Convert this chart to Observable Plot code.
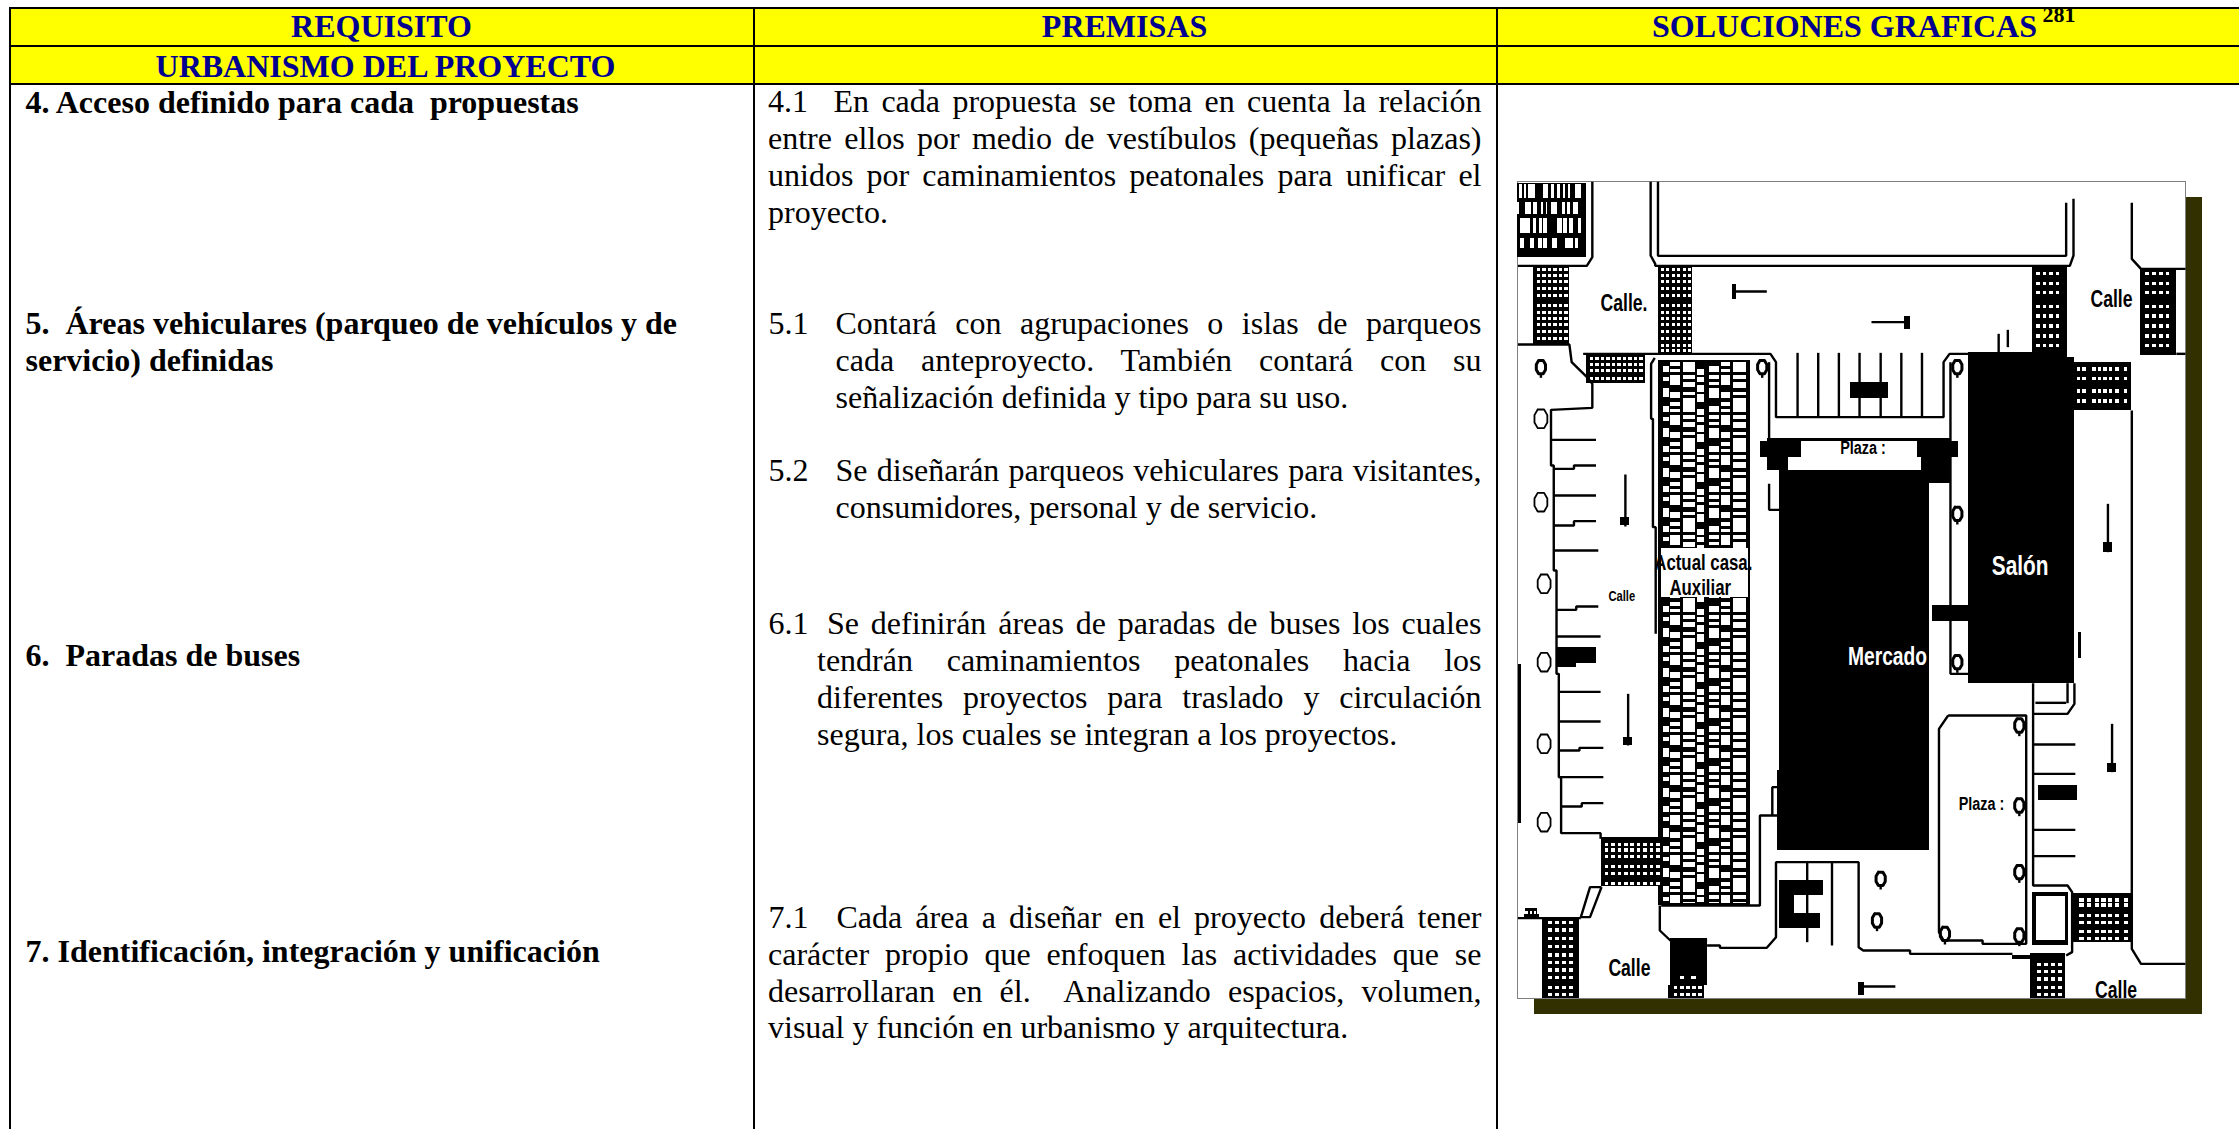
<!DOCTYPE html>
<html><head><meta charset="utf-8">
<style>html,body{margin:0;padding:0;background:#fff;overflow:hidden}svg{display:block}</style>
<script src="https://cdn.jsdelivr.net/npm/d3@7"></script>
<script src="https://cdn.jsdelivr.net/npm/@observablehq/plot@0.6"></script>
</head><body><div id="chart"></div>
<script>
// ---------- table ----------
const SERIF = "'Liberation Serif','Times New Roman',serif";
const yellowBands = [[9,7,2239,45],[9,45,2239,83]];
const ruleH = [[7,9,2239],[45,9,2239],[83,9,2239]];
const ruleV = [[9,7,1129],[753.5,7,1129],[1496,7,1129]];
const headers = [
  ["REQUISITO",381,36.7],["PREMISAS",1124,36.7],["SOLUCIONES GRAFICAS",1844,36.7],["URBANISMO DEL PROYECTO",385,76]
];
const superscripts = [["281",2042,21.7]];
const boldLines = [
  ["4. Acceso definido para cada  propuestas",25,112.7],
  ["5.  Áreas vehiculares (parqueo de vehículos y de",25,333],
  ["servicio) definidas",25,370.7],
  ["6.  Paradas de buses",25,665],
  ["7. Identificación, integración y unificación",25,961]
];
const numberLabels = [["4.1",767.5,111.7],["5.1",768,333],["5.2",768,480.7],["6.1",768,633],["7.1",768,927.6]];
const R = 1481;
const justifiedLines = [
  ["En cada propuesta se toma en cuenta la relación",833,111.7,R],
  ["entre ellos por medio de vestíbulos (pequeñas plazas)",767.5,148.3,R],
  ["unidos por caminamientos peatonales para unificar el",767.5,185,R],
  ["Contará con agrupaciones o islas de parqueos",835,333,R],
  ["cada anteproyecto. También contará con su",835,370,R],
  ["Se diseñarán parqueos vehiculares para visitantes,",835,480.7,R],
  ["Se definirán áreas de paradas de buses los cuales",826.5,633,R],
  ["tendrán caminamientos peatonales hacia los",816.5,670.8,R],
  ["diferentes proyectos para traslado y circulación",816.5,707,R],
  ["Cada área a diseñar en el proyecto deberá tener",836,927.6,R],
  ["carácter propio que enfoquen las actividades que se",767.5,964.7,R],
  ["desarrollaran en él.  Analizando espacios, volumen,",767.5,1001.5,R]
];
const plainLines = [
  ["proyecto.",767.5,222],
  ["señalización definida y tipo para su uso.",835,407],
  ["consumidores, personal y de servicio.",835,517],
  ["segura, los cuales se integran a los proyectos.",816.5,744],
  ["visual y función en urbanismo y arquitectura.",767.5,1037.6]
];

// ---------- site plan, in plan units ----------
const planX = v => 1500 + v / 2.178, planY = v => 170 + v / 3;
const shadow = [[73,82,1528,2532]];
const sheet = [[38,34,1492,2484]];
const blackBlocks = [
  [38,38,188,260],
  [72,290,150,522],[345,290,418,548],[1158,290,1235,548],[1395,295,1472,555],
  [188,555,315,640],[1235,575,1375,720],[220,2000,350,2148],[92,2243,172,2484],
  [370,2305,450,2445],[366,2445,444,2484],[1155,2350,1230,2484],[1248,2168,1375,2315],
  [1020,547,1235,600],[1020,600,1250,1538],[1235,560,1250,600],[940,1305,1020,1352],
  [608,900,934,2040],[603,1800,608,2040],
  [566,812,655,860],[908,812,997,860],[582,860,628,900],[918,860,980,938],[582,804,980,812],
  [762,635,845,685],[122,1432,208,1480],[122,1480,165,1490],[1172,1845,1256,1890],
  [608,2130,703,2175],[608,2175,640,2230],[608,2230,698,2275],
  [345,570,545,2205],[40,1483,46,1960],
  [1158,2165,1238,2325],[1258,1385,1266,1465],
  [505,342,513,388],[880,438,892,478],[262,1040,282,1065],[268,1700,288,1725],[1313,1115,1333,1145],[1322,1780,1342,1805],[780,2435,792,2475],
  [52,2232,85,2240],[55,2215,80,2232],[1115,2355,1155,2366]
];
const whiteBlocks = [
  [628,860,918,900],[655,812,908,860],[350,1135,540,1282],[1168,2178,1230,2310],
  [595,1850,603,1935],[1168,1540,1232,1595],[1172,1600,1190,1628],[1200,1600,1222,1628],
  [592,940,605,1010],[55,2222,60,2232],[65,2222,70,2232],[73,2222,78,2232]
];
const buildingCells = [
  [[28,35],[42,48],[55,75],[100,115],[122,132],[140,150],[158,165],[175,180],[195,212]],
  [[22,28],[45,62],[70,82],[92,100],[108,112],[122,140],[155,165],[170,180],[190,205]],
  [[30,60],[68,78],[88,95],[100,112],[140,155],[160,172],[178,190],[205,213]],
  [[30,42],[60,72],[85,95],[100,112],[125,140],[165,190],[195,205]]
];
const buildingRows = [[28,68],[80,118],[130,175],[190,218]];
const crosswalks = [
  {rows:[295,312,330,352,372,403,423,441,460,481,500],cols:[80,92,104,116,128,140],w:8,h:9},
  {rows:[295,312,330,352,372,403,423,441,460,481,500,522,538],cols:[350,362,374,386,398,410],w:7,h:9},
  {rows:[305,335,362,405,433,463,493,522],cols:[1168,1182,1196,1210],w:8,h:10},
  {rows:[305,335,362,405,433,463,493,522],cols:[1405,1420,1435,1450],w:8,h:10},
  {rows:[562,580,598,620],cols:[195,207,219,231,243,255,267,279,291,303],w:8,h:9},
  {rows:[592,620,658,688],cols:[1256,1268,1290,1302,1314,1326,1340,1358],w:8,h:10},
  {rows:[2018,2035,2055,2085,2105,2135],cols:[228,242,256,270,284,298,312,326,340],w:8,h:10},
  {rows:[2252,2275,2300,2325,2350,2372,2395,2418,2448,2468],cols:[105,120,135,150],w:9,h:10},
  {rows:[2418],cols:[392,417],w:9,h:10},
  {rows:[2448,2468],cols:[378,392,405,418,432],w:8,h:10},
  {rows:[2378,2400,2422,2448,2468],cols:[1170,1185,1200,1215],w:9,h:10},
  {rows:[2185,2200,2232,2252,2280,2300],cols:[1262,1278,1295,1310,1325,1340,1358],w:9,h:10}
];
const brickColumns = [
  [354,367,[[78,95],[112,122],[145,172]]],
  [370,392,[[66,78],[86,96],[105,135],[155,175]]],
  [398,425,[[66,95],[105,117],[125,140],[155,165],[173,185]]],
  [429,445,[[86,105],[112,125],[135,155],[163,185]]],
  [455,478,[[78,96],[105,117],[125,135],[145,175]]],
  [481,502,[[66,78],[86,96],[105,135],[155,175]]],
  [507,536,[[66,95],[105,117],[125,145],[155,165],[173,185]]]
];
const brickStarts = [510,630,750,870,990,1110,1230,1350,1470,1590,1710,1830,1950,2070];
const polylines = [
  [[343,34],[343,256],[1232,256],[1232,97]],
  [[327,34],[327,255],[337,280],[337,286],[1240,286],[1248,255],[1248,85]],
  [[200,34],[200,260],[188,286],[38,286]],
  [[1375,97],[1375,265],[1395,295],[1492,295]],
  [[1472,550],[1492,550]],
  [[38,522],[150,522],[155,575],[190,622],[200,640],[200,712],[110,718],[110,885],[116,885],[116,1200],[122,1200],[122,1510],[127,1510],[127,1820],[132,1820],[132,1988],[218,1988],[218,2005]],
  [[110,808],[208,808]],[[116,895],[160,895],[160,885],[208,885]],[[116,975],[208,975]],
  [[116,1065],[160,1065],[160,1052],[208,1052]],[[116,1140],[213,1140]],[[122,1318],[165,1318],[165,1308],[213,1308]],
  [[122,1398],[218,1398]],[[127,1564],[218,1564]],[[127,1653],[218,1653]],[[127,1740],[172,1740],[172,1732],[224,1732]],
  [[127,1820],[224,1820]],[[132,1908],[177,1908],[177,1898],[224,1898]],
  [[180,550],[588,550],[600,575],[600,740],[965,740],[965,575],[978,550],[1020,550]],
  [[647,547],[647,740]],[[692,547],[692,740]],[[737,547],[737,740]],[[782,547],[782,740]],[[828,547],[828,740]],[[873,547],[873,740]],[[918,547],[918,740]],
  [[336,562],[328,580],[328,745],[332,745],[332,1070],[338,1070],[338,1390]],
  [[585,575],[585,804]],[[980,575],[980,1510],[1020,1510]],
  [[585,940],[585,1018],[608,1018]],
  [[350,2205],[565,2205],[565,1935],[605,1935]],[[592,1935],[592,1850],[605,1850]],
  [[347,2205],[347,2280],[370,2310],[450,2310]],
  [[450,2325],[478,2325],[478,2332],[580,2332],[600,2300],[600,2075],[780,2075],[780,2330],[790,2340],[892,2340],[892,2350],[1115,2350]],
  [[668,2075],[668,2315]],[[722,2075],[722,2325]],
  [[975,1635],[1145,1635],[1145,2320],[1050,2320],[1050,2310],[965,2310],[955,2285],[955,1675],[975,1635]],
  [[1160,1538],[1160,2145],[1235,2145],[1245,2165],[1245,2345],[1232,2355]],
  [[1160,1722],[1252,1722]],[[1160,1810],[1252,1810]],[[1160,1978],[1252,1978]],[[1160,2057],[1252,2057]],
  [[1160,1630],[1235,1630],[1250,1600],[1250,1538]],[[1235,1538],[1235,1598]],[[1165,1597],[1232,1597]],
  [[1375,720],[1375,2335],[1395,2380],[1492,2380]],
  [[220,2150],[195,2150],[175,2240],[195,2240],[220,2150]],[[38,2243],[175,2243]],
  [[1085,490],[1085,545]],[[1105,478],[1105,530]],
  [[505,363],[580,363]],[[808,455],[890,455]],[[272,912],[272,1068]],[[278,1570],[278,1725]],[[1323,1000],[1323,1145]],[[1332,1660],[1332,1805]],[[860,2448],[780,2448]]
];
const octagon = [[-.5,-1],[.5,-1],[1,-.4],[1,.4],[.5,1],[-.5,1],[-1,.4],[-1,-.4],[-.5,-1]];
const bigTrees = [[88,745],[88,995],[95,1240],[95,1475],[95,1720],[95,1955]];
const smallTrees = [[88,590],[570,590],[995,590],[995,1030],[995,1475],[1130,1665],[1130,1905],[1130,2105],[1130,2295],[968,2290],[828,2125],[820,2250]];
const planLabels = [
  ["Calle.",218,420,22,"#000"],["Calle",1285,408,22,"#000"],["Calle",235,2415,22,"#000"],["Calle",1295,2482,22,"#000"],
  ["Calle",235,1290,14,"#000"],["Plaza :",740,850,18,"#000"],["Plaza :",998,1918,18,"#000"],
  ["Actual casa.",335,1198,21,"#000"],["Auxiliar",368,1274,21,"#000"],
  ["Mercado",757,1482,24,"#fff"],["Salón",1070,1212,26,"#fff"]
];

// ---------- derived tables ----------
const block = a => ({x1:planX(a[0]),y1:planY(a[1]),x2:planX(a[2]),y2:planY(a[3])});
const hx = v => 21.8 + v * 0.726, hy = v => 15 + v;
const cellRows = buildingCells.flatMap((row,r) => row.map(([a,b]) => [hx(a),hy(buildingRows[r][0]),hx(b),hy(buildingRows[r][1])]));
const walkDots = crosswalks.flatMap(c => c.rows.flatMap(y => c.cols.map(x => [x,y,x+c.w,y+c.h])));
const bricks = brickStarts.flatMap(s => brickColumns.flatMap(([a,b,spans]) => spans.map(([t,u]) => [a,s+t,b,Math.min(s+u,2198)]).filter(q => q[1] < 2198)));
const whiteCells = [...cellRows,...walkDots,...bricks].map(block);
const stems = smallTrees.map(([x,y]) => [[x,y+20],[x,y+32]]);
const pathRows = [...polylines,...stems].flatMap((p,i) => p.map(([x,y]) => ({x:planX(x),y:planY(y),k:i})));
const treeRows = (list,rx,ry) => list.flatMap(([cx,cy],i) => octagon.map(([u,v]) => ({x:planX(cx+u*rx),y:planY(cy+v*ry),k:i})));

const txt = (rows,o) => Plot.text(rows,{x:d=>d[1],y:d=>d[2],text:d=>d[0],textAnchor:"start",lineAnchor:"bottom",fontFamily:SERIF,fill:"#000",...o});
const crisp = {shapeRendering:"crispEdges"};
const BODY = 32, BOLD = 32;

const svg = Plot.plot({
  width:2239,height:1129,margin:0,
  x:{domain:[0,2239],range:[0,2239],axis:null},
  y:{domain:[0,1129],range:[0,1129],axis:null},
  style:{background:"#fff",maxWidth:"none"},
  marks:[
    Plot.rect(yellowBands,{x1:d=>d[0],y1:d=>d[1],x2:d=>d[2],y2:d=>d[3],fill:"#ffff00",...crisp}),
    txt(headers,{textAnchor:"middle",fontSize:32,fontWeight:"bold",fill:"#000090"}),
    txt(superscripts,{fontSize:22,fontWeight:"bold"}),
    txt(boldLines,{fontSize:BOLD,fontWeight:"bold"}),
    txt(numberLabels,{fontSize:BODY}),
    txt(justifiedLines,{fontSize:BODY,className:"just"}),
    txt(plainLines,{fontSize:BODY}),
    Plot.ruleY(ruleH,{y:d=>d[0],x1:d=>d[1],x2:d=>d[2],stroke:"#000",strokeWidth:2,...crisp}),
    Plot.ruleX(ruleV,{x:d=>d[0],y1:d=>d[1],y2:d=>d[2],stroke:"#000",strokeWidth:2,...crisp}),
    // plan
    Plot.rect(shadow.map(block),{x1:"x1",y1:"y1",x2:"x2",y2:"y2",fill:"#333000",...crisp}),
    Plot.rect(sheet.map(block),{x1:"x1",y1:"y1",x2:"x2",y2:"y2",fill:"#fff",stroke:"#808080",strokeWidth:1,...crisp}),
    Plot.rect(blackBlocks.map(block),{x1:"x1",y1:"y1",x2:"x2",y2:"y2",fill:"#000",...crisp}),
    Plot.rect(whiteCells,{x1:"x1",y1:"y1",x2:"x2",y2:"y2",fill:"#fff",...crisp}),
    Plot.rect(whiteBlocks.map(block),{x1:"x1",y1:"y1",x2:"x2",y2:"y2",fill:"#fff",...crisp}),
    Plot.line(pathRows,{x:"x",y:"y",z:"k",stroke:"#000",strokeWidth:2.4,strokeLinejoin:"miter",strokeLinecap:"butt"}),
    Plot.line(treeRows(bigTrees,14,28),{x:"x",y:"y",z:"k",stroke:"#000",strokeWidth:1.8}),
    Plot.line(treeRows(smallTrees,10,20),{x:"x",y:"y",z:"k",stroke:"#000",strokeWidth:3}),
    Plot.text(planLabels,{x:d=>planX(d[1]),y:d=>planY(d[2]),text:d=>d[0],fontSize:d=>d[3],fill:d=>d[4],fontWeight:"bold",className:"lab",textAnchor:"start",lineAnchor:"bottom",fontFamily:"'Liberation Sans',sans-serif"})
  ]
});
document.getElementById("chart").append(svg);
// justify: widen the word gaps of each line out to the right edge of its cell
const target = new Map(justifiedLines.map(l => [l[0], l[3]-l[1]]));
d3.select(svg).selectAll("g.just text").each(function(){
  const s = this.textContent, gaps = (s.match(/ /g)||[]).length, len = this.getComputedTextLength();
  this.style.wordSpacing = ((target.get(s)-len)/gaps) + "px";
});
// the plan's lettering is tall and narrow
d3.select(svg).selectAll("g.lab text").attr("transform", function(){ return this.getAttribute("transform") + " scale(.8,1.05)"; });
</script></body></html>
